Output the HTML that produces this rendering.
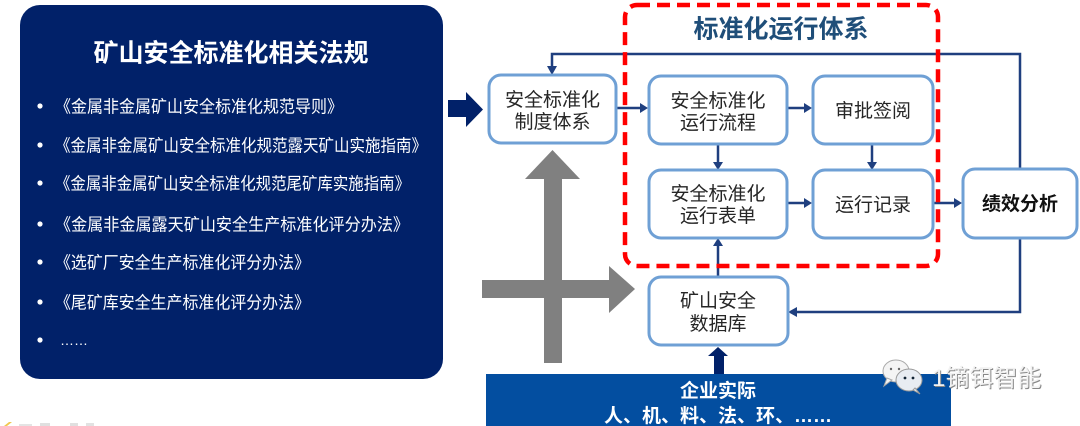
<!DOCTYPE html>
<html>
<head>
<meta charset="utf-8">
<style>
html,body{margin:0;padding:0;background:#fff;}
body{width:1080px;height:426px;overflow:hidden;}
svg{display:block;}
text{font-family:"Liberation Sans","Noto Sans CJK SC",sans-serif;}
</style>
</head>
<body>
<svg width="1080" height="426" viewBox="0 0 1080 426" xmlns="http://www.w3.org/2000/svg">
  <!-- Left panel -->
  <rect x="20" y="5" width="423" height="374" rx="20" ry="20" fill="#012169"/>
  <text x="231" y="61.5" text-anchor="middle" font-size="25" font-weight="bold" fill="#fff">矿山安全标准化相关法规</text>
  <g fill="#fff" font-size="17">
    <circle cx="40" cy="106" r="2.6"/>
    <text x="55" y="112.5" textLength="288" lengthAdjust="spacingAndGlyphs">《金属非金属矿山安全标准化规范导则》</text>
    <circle cx="40" cy="145" r="2.6"/>
    <text x="55" y="151.5" textLength="372" lengthAdjust="spacingAndGlyphs">《金属非金属矿山安全标准化规范露天矿山实施指南》</text>
    <circle cx="40" cy="183" r="2.6"/>
    <text x="55" y="189.5" textLength="355" lengthAdjust="spacingAndGlyphs">《金属非金属矿山安全标准化规范尾矿库实施指南》</text>
    <circle cx="40" cy="224" r="2.6"/>
    <text x="55" y="230.5" textLength="354" lengthAdjust="spacingAndGlyphs">《金属非金属露天矿山安全生产标准化评分办法》</text>
    <circle cx="40" cy="262" r="2.6"/>
    <text x="55" y="268.5" textLength="255" lengthAdjust="spacingAndGlyphs">《选矿厂安全生产标准化评分办法》</text>
    <circle cx="40" cy="302" r="2.6"/>
    <text x="55" y="308.5" textLength="255" lengthAdjust="spacingAndGlyphs">《尾矿库安全生产标准化评分办法》</text>
    <circle cx="40" cy="340" r="2.6"/>
    <text x="60" y="345" font-size="14">……</text>
  </g>

  <!-- bottom-left logo fragment -->
  <polygon points="4,426 9,422 12,422 7,426" fill="#f0c850"/>
  <rect x="19" y="424" width="13" height="2" fill="#e4e4e4"/>
  <rect x="40" y="423" width="10" height="3" fill="#e0e0e0"/>
  <rect x="70" y="423" width="8" height="3" fill="#e0e0e0"/>
  <rect x="86" y="423" width="8" height="3" fill="#e2e2e2"/>

  <!-- navy arrow into system -->
  <rect x="448" y="100" width="19" height="17" fill="#012169"/>
  <polygon points="466,92 483,109.5 466,127" fill="#012169"/>

  <!-- gray big arrows -->
  <rect x="544" y="178" width="18" height="185" fill="#808080"/>
  <polygon points="525,179 552.5,150 580,179" fill="#808080"/>
  <rect x="482" y="280" width="128" height="18" fill="#808080"/>
  <polygon points="609,266 635,289 609,313" fill="#808080"/>

  <!-- connectors -->
  <g stroke="#1f3f7f" stroke-width="2.5" fill="none">
    <path d="M1020,169 V54 H552 V67"/>
    <path d="M1020,238 V312 H797"/>
    <line x1="616" y1="108" x2="640" y2="108"/>
    <line x1="787" y1="108" x2="804" y2="108"/>
    <line x1="718" y1="144" x2="718" y2="162"/>
    <line x1="872" y1="144" x2="872" y2="162"/>
    <line x1="787" y1="203" x2="804" y2="203"/>
    <line x1="933" y1="203" x2="954" y2="203"/>
    <line x1="718" y1="277" x2="718" y2="246"/>
  </g>
  <g fill="#1f3f7f">
    <polygon points="547,66 557,66 552,75"/>
    <polygon points="797,307 797,317 788,312"/>
    <polygon points="640,103 640,113 648,108"/>
    <polygon points="804,103 804,113 812,108"/>
    <polygon points="713,162 723,162 718,170"/>
    <polygon points="867,162 877,162 872,170"/>
    <polygon points="804,198 804,208 812,203"/>
    <polygon points="954,198 954,208 962,203"/>
    <polygon points="713,246 723,246 718,238"/>
  </g>

  <!-- boxes -->
  <g fill="#fff" stroke="#6fa0d5" stroke-width="3">
    <rect x="489" y="75" width="127" height="68" rx="12"/>
    <rect x="649" y="76" width="138" height="68" rx="12"/>
    <rect x="813" y="76" width="120" height="68" rx="12"/>
    <rect x="649" y="170" width="138" height="68" rx="12"/>
    <rect x="813" y="170" width="120" height="68" rx="12"/>
    <rect x="963" y="169" width="114" height="69" rx="12"/>
    <rect x="649" y="277" width="139" height="68" rx="12"/>
  </g>
  <g fill="#262626" font-size="19" text-anchor="middle">
    <text x="552.5" y="106">安全标准化</text>
    <text x="552.5" y="128">制度体系</text>
    <text x="718" y="107">安全标准化</text>
    <text x="718" y="129">运行流程</text>
    <text x="873" y="117">审批签阅</text>
    <text x="718" y="200">安全标准化</text>
    <text x="718" y="222">运行表单</text>
    <text x="873" y="211">运行记录</text>
    <text x="718" y="307">矿山安全</text>
    <text x="718" y="330">数据库</text>
  </g>
  <text x="1020" y="210" text-anchor="middle" font-size="19" font-weight="bold" fill="#111">绩效分析</text>

  <!-- red dashed frame -->
  <rect x="625" y="5" width="313" height="261" rx="12" fill="none" stroke="#ff0000" stroke-width="4.5" stroke-dasharray="13 7"/>
  <text x="781" y="37.5" text-anchor="middle" font-size="25" font-weight="bold" fill="#1f4e79">标准化运行体系</text>

  <!-- bottom base -->
  <rect x="486" y="374" width="465" height="60" fill="#034ea0"/>
  <rect x="714" y="355" width="10" height="19" fill="#012169"/>
  <polygon points="708,356 718,347 728,356" fill="#012169"/>
  <text x="718" y="397" text-anchor="middle" font-size="19" font-weight="bold" fill="#fff">企业实际</text>
  <text x="718" y="422" text-anchor="middle" font-size="19" font-weight="bold" fill="#fff">人、机、料、法、环、……</text>

  <!-- watermark -->
  <g>
    <ellipse cx="896" cy="371" rx="13" ry="11" fill="#f4f4f4" stroke="#aaa" stroke-width="1"/>
    <polygon points="887,378 884,386 892,380" fill="#f4f4f4" stroke="#aaa" stroke-width="1"/>
    <ellipse cx="909" cy="380" rx="13" ry="11" fill="#e8ecf2" stroke="#999" stroke-width="1"/>
    <polygon points="915,388 920,394 913,390" fill="#e8ecf2" stroke="#999" stroke-width="1"/>
    <circle cx="905" cy="378" r="1.4" fill="#123"/>
    <circle cx="913" cy="378" r="1.4" fill="#123"/>
    <circle cx="891" cy="369" r="1.2" fill="#666"/>
    <circle cx="899" cy="369" r="1.2" fill="#666"/>
    <text x="933" y="387" font-size="24" fill="#888">1镝铒智能</text>
    <text x="932" y="386" font-size="24" fill="#f2f2f2">1镝铒智能</text>
  </g>
</svg>
</body>
</html>
